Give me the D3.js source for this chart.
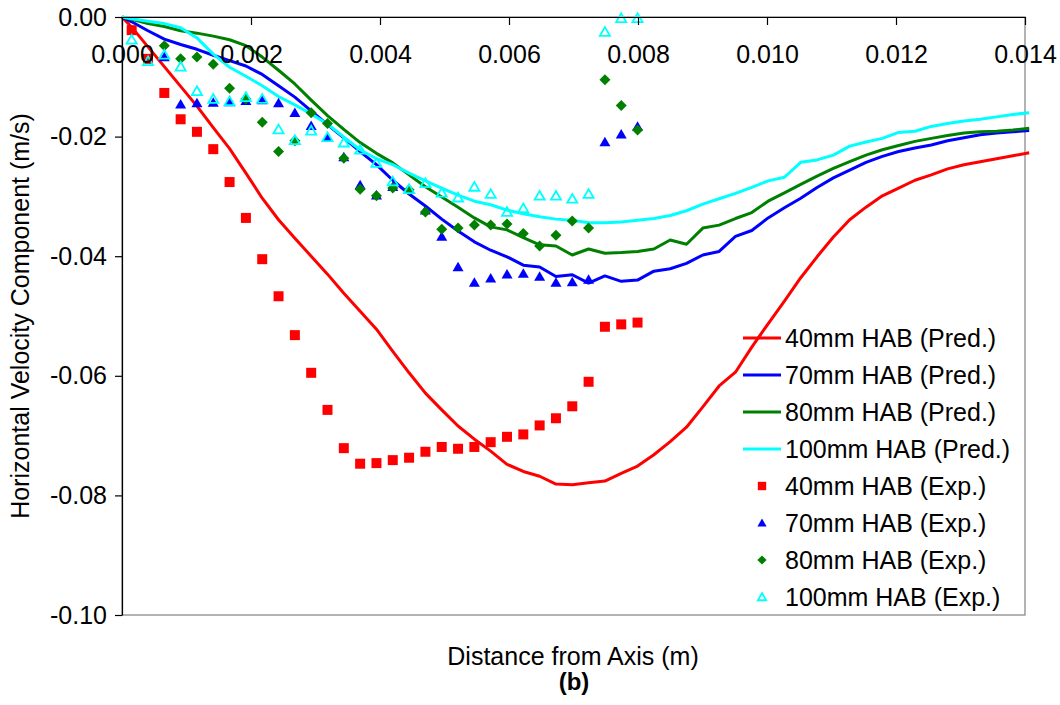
<!DOCTYPE html>
<html>
<head>
<meta charset="utf-8">
<script src="https://cdnjs.cloudflare.com/ajax/libs/d3/7.8.5/d3.min.js"></script>
<style>
  body { margin: 0; background: #fff; }
  svg text { font-family: "Liberation Sans", Arial, sans-serif; fill: #000; }
</style>
</head>
<body>
<div id="chart"></div>
<script>
// Horizontal velocity vs distance from axis - panel (b)

// Distances (m) for the predicted profiles
var predDistance = [0, 0.000150, 0.000403, 0.000656, 0.000909, 0.001162, 0.001415, 0.001668, 0.001921, 0.002174,
    0.002427, 0.002680, 0.002933, 0.003186, 0.003439, 0.003692, 0.003945, 0.004198, 0.004451, 0.004704,
    0.004957, 0.005210, 0.005463, 0.005716, 0.005969, 0.006222, 0.006475, 0.006728, 0.006981, 0.007234,
    0.007487, 0.007740, 0.007993, 0.008246, 0.008499, 0.008752, 0.009005, 0.009258, 0.009511, 0.009764,
    0.010017, 0.010270, 0.010523, 0.010776, 0.011029, 0.011282, 0.011535, 0.011788, 0.012041, 0.012294,
    0.012547, 0.012800, 0.013053, 0.013306, 0.013559, 0.013812, 0.014065];

// Predicted velocity (m/s)
var pred40 = [0, -0.0017, -0.0050, -0.0083, -0.0116, -0.0149, -0.0185, -0.0220, -0.0261, -0.0303,
    -0.0339, -0.0370, -0.0400, -0.0430, -0.0462, -0.0492, -0.0522, -0.0559, -0.0595, -0.0629,
    -0.0657, -0.0684, -0.0706, -0.0726, -0.0748, -0.0760, -0.0768, -0.0781, -0.0782, -0.0779,
    -0.0776, -0.0763, -0.0751, -0.0732, -0.0710, -0.0686, -0.0652, -0.0617, -0.0594, -0.0552,
    -0.0513, -0.0475, -0.0436, -0.0401, -0.0368, -0.0339, -0.0318, -0.0299, -0.0286, -0.0273,
    -0.0264, -0.0254, -0.0247, -0.0242, -0.0237, -0.0232, -0.0227];
var pred70 = [0, -0.0008, -0.0023, -0.0037, -0.0046, -0.0054, -0.0064, -0.0073, -0.0082, -0.0096,
    -0.0115, -0.0134, -0.0157, -0.0180, -0.0202, -0.0225, -0.0247, -0.0273, -0.0296, -0.0316,
    -0.0338, -0.0358, -0.0376, -0.0390, -0.0401, -0.0415, -0.0418, -0.0434, -0.0431, -0.0445,
    -0.0433, -0.0442, -0.0440, -0.0425, -0.0421, -0.0412, -0.0398, -0.0392, -0.0367, -0.0357,
    -0.0336, -0.0319, -0.0303, -0.0285, -0.0269, -0.0256, -0.0243, -0.0233, -0.0225, -0.0219,
    -0.0214, -0.0207, -0.0202, -0.0197, -0.0194, -0.0192, -0.0190];
var pred80 = [0, -0.0004, -0.0011, -0.0016, -0.0023, -0.0027, -0.0032, -0.0038, -0.0048, -0.0067,
    -0.0089, -0.0112, -0.0139, -0.0165, -0.0188, -0.0210, -0.0228, -0.0244, -0.0264, -0.0284,
    -0.0301, -0.0318, -0.0336, -0.0351, -0.0356, -0.0369, -0.0381, -0.0383, -0.0398, -0.0388,
    -0.0395, -0.0394, -0.0392, -0.0388, -0.0373, -0.0380, -0.0353, -0.0348, -0.0337, -0.0327,
    -0.0308, -0.0294, -0.0280, -0.0266, -0.0253, -0.0242, -0.0231, -0.0222, -0.0215, -0.0208,
    -0.0203, -0.0198, -0.0194, -0.0192, -0.0191, -0.0189, -0.0186];
var pred100 = [0, -0.0003, -0.0007, -0.0011, -0.0018, -0.0035, -0.0062, -0.0084, -0.0099, -0.0115,
    -0.0133, -0.0147, -0.0162, -0.0179, -0.0201, -0.0222, -0.0237, -0.0247, -0.0261, -0.0274,
    -0.0286, -0.0298, -0.0308, -0.0314, -0.0323, -0.0329, -0.0334, -0.0338, -0.0340, -0.0344,
    -0.0344, -0.0343, -0.0340, -0.0337, -0.0332, -0.0324, -0.0313, -0.0304, -0.0295, -0.0285,
    -0.0274, -0.0268, -0.0243, -0.0239, -0.0231, -0.0216, -0.0209, -0.0203, -0.0193, -0.0191,
    -0.0183, -0.0178, -0.0174, -0.0171, -0.0167, -0.0163, -0.0160];

// Distances (m) for the measured points
var expDistance = [0.000150, 0.000403, 0.000656, 0.000909, 0.001162, 0.001415, 0.001668, 0.001921,
    0.002174, 0.002427, 0.002680, 0.002933, 0.003186, 0.003439, 0.003692, 0.003945,
    0.004198, 0.004451, 0.004704, 0.004957, 0.005210, 0.005463, 0.005716, 0.005969,
    0.006222, 0.006475, 0.006728, 0.006981, 0.007234, 0.007487, 0.007740, 0.007993];

// Measured velocity (m/s), null = no point
var exp40 = [-0.0022, -0.0070, -0.0127, -0.0171, -0.0192, -0.0221, -0.0276, -0.0336,
    -0.0405, -0.0467, -0.0532, -0.0595, -0.0657, -0.0721, -0.0747, -0.0746,
    -0.0741, -0.0737, -0.0727, -0.0719, -0.0722, -0.0719, -0.0711, -0.0702,
    -0.0698, -0.0683, -0.0671, -0.0651, -0.0610, -0.0518, -0.0514, -0.0511];
var exp70 = [null, null, -0.0067, -0.0146, -0.0144, -0.0143, -0.0142, -0.0140,
    -0.0139, -0.0144, -0.0160, -0.0182, -0.0202, -0.0234, -0.0281, -0.0298,
    -0.0284, -0.0289, -0.0323, -0.0367, -0.0418, -0.0444, -0.0437, -0.0430,
    -0.0429, -0.0434, -0.0444, -0.0443, -0.0439, -0.0209, -0.0196, -0.0183];
var exp80 = [null, null, -0.0048, -0.0070, -0.0067, -0.0079, -0.0119, -0.0137,
    -0.0176, -0.0225, -0.0207, -0.0160, -0.0178, -0.0236, -0.0288, -0.0299,
    -0.0286, -0.0289, -0.0326, -0.0355, -0.0353, -0.0348, -0.0348, -0.0346,
    -0.0362, -0.0383, -0.0365, -0.0341, -0.0353, -0.0105, -0.0148, -0.0189];
var exp100 = [-0.0038, -0.0074, -0.0063, -0.0083, -0.0124, -0.0137, -0.0141, -0.0134,
    -0.0137, -0.0188, -0.0206, -0.0190, -0.0201, -0.0210, -0.0222, -0.0244,
    -0.0275, -0.0288, -0.0278, -0.0294, -0.0302, -0.0284, -0.0296, -0.0326,
    -0.0320, -0.0299, -0.0299, -0.0304, -0.0296, -0.0025, -0.0002, -0.0002];

// Axis ticks
var xTicks = [0, 0.002, 0.004, 0.006, 0.008, 0.010, 0.012, 0.014];
var yTicks = [0, -0.02, -0.04, -0.06, -0.08, -0.10];

// Series names
var predNames = ["40mm HAB (Pred.)", "70mm HAB (Pred.)", "80mm HAB (Pred.)", "100mm HAB (Pred.)"];
var expNames = ["40mm HAB (Exp.)", "70mm HAB (Exp.)", "80mm HAB (Exp.)", "100mm HAB (Exp.)"];
var seriesColors = ["#FF0000", "#0000FF", "#008000", "#00FFFF"];
var expShapes = ["square", "triangle", "diamond", "hollowTriangle"];

// SVG parameter setup
var svgWidth = 1060;
var svgHeight = 705;
var margin = { top: 17, right: 35, bottom: 90, left: 122 };
var width = svgWidth - margin.left - margin.right;
var height = svgHeight - margin.top - margin.bottom;

var svg = d3.select("#chart").append("svg")
    .attr("width", svgWidth)
    .attr("height", svgHeight)
    .style("background", "#fff");

var chartGroup = svg.append("g")
    .attr("transform", `translate(${margin.left}, ${margin.top})`);

// Scales
var xScale = d3.scaleLinear().domain([0, 0.014]).range([0, width]);
var yScale = d3.scaleLinear().domain([0, -0.10]).range([0, height]);

// Plot area border
chartGroup.append("rect")
    .attr("width", width)
    .attr("height", height)
    .attr("fill", "none")
    .attr("stroke", "#808080")
    .attr("stroke-width", 1.2);

// Predicted lines
var predSeries = [pred40, pred70, pred80, pred100];
var lineGen = d3.line()
    .x((d, i) => xScale(predDistance[i]))
    .y(d => yScale(d));

predSeries.forEach(function(values, s) {
    chartGroup.append("path")
        .datum(values)
        .attr("d", lineGen)
        .attr("fill", "none")
        .attr("stroke", seriesColors[s])
        .attr("stroke-width", 3)
        .attr("stroke-linejoin", "round");
});

// Marker shapes
function markerPath(shape, r) {
    if (shape === "square") {
        return `M${-r},${-r}h${2 * r}v${2 * r}h${-2 * r}Z`;
    }
    else if (shape === "diamond") {
        return `M0,${-r * 1.1}L${r * 1.1},0L0,${r * 1.1}L${-r * 1.1},0Z`;
    }
    // triangles
    return `M0,${-r * 1.05}L${r * 1.1},${r * 0.85}L${-r * 1.1},${r * 0.85}Z`;
}

function styleMarker(sel, shape, color) {
    if (shape === "hollowTriangle") {
        sel.attr("fill", "none").attr("stroke", color).attr("stroke-width", 1.8);
    }
    else {
        sel.attr("fill", color).attr("stroke", "none");
    }
}

// Measured points
var expSeries = [exp40, exp70, exp80, exp100];
expSeries.forEach(function(values, s) {
    var pts = values
        .map((v, i) => ({ x: expDistance[i], y: v }))
        .filter(d => d.y !== null);
    var r = expShapes[s] === "hollowTriangle" ? 4.6 : 5;
    chartGroup.append("g").selectAll("path")
        .data(pts)
        .enter()
        .append("path")
        .attr("d", markerPath(expShapes[s], r))
        .attr("transform", d => `translate(${xScale(d.x)}, ${yScale(d.y)})`)
        .call(styleMarker, expShapes[s], seriesColors[s]);
});

// X axis (sits at the top, on the zero line)
var xAxis = d3.axisBottom(xScale)
    .tickValues(xTicks)
    .tickFormat(d => d.toFixed(3))
    .tickSize(8)
    .tickSizeOuter(0)
    .tickPadding(20);
var xAxisG = chartGroup.append("g").call(xAxis);

// Y axis
var yAxis = d3.axisLeft(yScale)
    .tickValues(yTicks)
    .tickFormat(d => d.toFixed(2))
    .tickSize(7)
    .tickSizeOuter(0)
    .tickPadding(8);
var yAxisG = chartGroup.append("g").call(yAxis);

[xAxisG, yAxisG].forEach(function(g) {
    g.attr("font-size", 25).attr("font-family", null);
    g.select(".domain").attr("stroke", "#000").attr("stroke-width", 1.2);
    g.selectAll(".tick line").attr("stroke", "#000").attr("stroke-width", 1.2);
});

// Axis titles
svg.append("text")
    .attr("x", 573)
    .attr("y", 665)
    .attr("text-anchor", "middle")
    .attr("font-size", 25)
    .text("Distance from Axis (m)");

svg.append("text")
    .attr("x", 574)
    .attr("y", 690)
    .attr("text-anchor", "middle")
    .attr("font-size", 24)
    .attr("font-weight", "bold")
    .text("(b)");

svg.append("text")
    .attr("transform", "translate(29, 316) rotate(-90)")
    .attr("text-anchor", "middle")
    .attr("font-size", 25)
    .text("Horizontal Velocity Component (m/s)");

// Legend
var legend = svg.append("g").attr("transform", "translate(743, 338)");
var rowStep = 37;

predNames.forEach(function(name, s) {
    var row = legend.append("g").attr("transform", `translate(0, ${s * rowStep})`);
    row.append("line")
        .attr("x1", 0).attr("x2", 38)
        .attr("stroke", seriesColors[s])
        .attr("stroke-width", 3);
    row.append("text")
        .attr("x", 42)
        .attr("dy", "0.35em")
        .attr("font-size", 25)
        .text(name);
});

expNames.forEach(function(name, s) {
    var row = legend.append("g").attr("transform", `translate(0, ${(s + 4) * rowStep})`);
    var r = expShapes[s] === "hollowTriangle" ? 3.8 : 4.2;
    row.append("path")
        .attr("d", markerPath(expShapes[s], r))
        .attr("transform", "translate(19, 0)")
        .call(styleMarker, expShapes[s], seriesColors[s]);
    row.append("text")
        .attr("x", 42)
        .attr("dy", "0.35em")
        .attr("font-size", 25)
        .text(name);
});
</script>
</body>
</html>
